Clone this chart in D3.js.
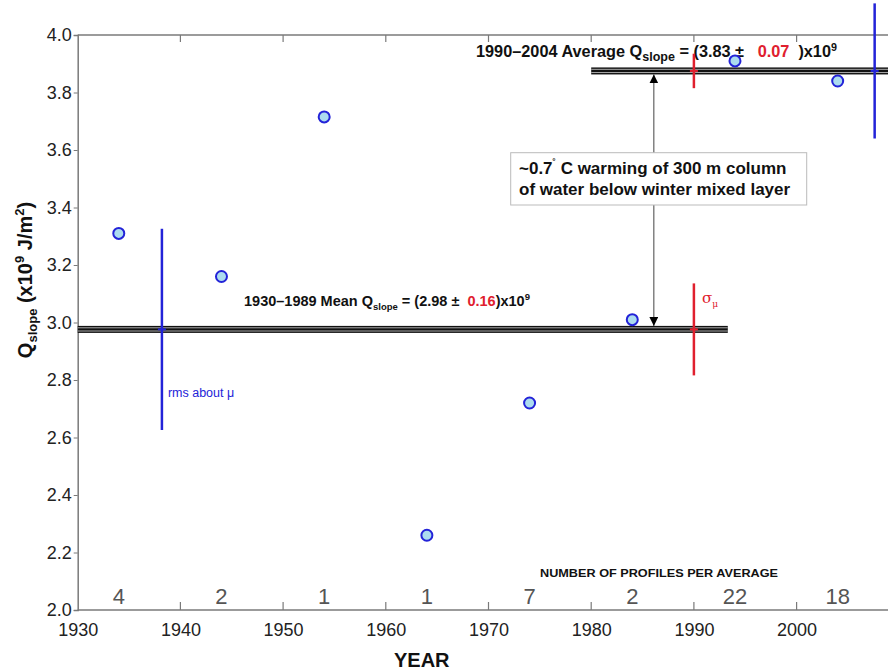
<!DOCTYPE html>
<html><head><meta charset="utf-8">
<script src="https://cdn.jsdelivr.net/npm/d3@7"></script>
<style>
html,body{margin:0;padding:0;background:#fff;overflow:hidden;}
svg{display:block;font-family:"Liberation Sans",Arial,Helvetica,sans-serif;}
</style></head>
<body>
<script>
// ---- data ----
const years = [1934, 1944, 1954, 1964, 1974, 1984, 1994, 2004];
const qslope = [3.31, 3.16, 3.715, 2.26, 2.72, 3.01, 3.91, 3.84];
const profiles = [4, 2, 1, 1, 7, 2, 22, 18];
const xTicks = [1930, 1940, 1950, 1960, 1970, 1980, 1990, 2000];
const yTicks = [2.0, 2.2, 2.4, 2.6, 2.8, 3.0, 3.2, 3.4, 3.6, 3.8, 4.0];
// early period statistics (1930-1989)
const earlyMean = 2.976, earlySigma = 0.16, earlyRms = 0.35;
const earlyBandYears = [1930, 1993.3];
const earlyRmsYear = 1938.2, earlySigmaYear = 1990;
// late period statistics (1990-2004)
const lateMean = 3.875, lateSigma = 0.06, lateRms = 0.235;
const lateBandYears = [1980, 2012];
const lateRmsYear = 2007.6, lateSigmaYear = 1990;
const arrowYear = 1986.1;

const W = 888, H = 671;
const x = d3.scaleLinear().domain([1930, 2010]).range([77.7, 899.3]);
const y = d3.scaleLinear().domain([2.0, 4.0]).range([610, 35]);

const svg = d3.select("body").append("svg").attr("width", W).attr("height", H);

const blue = "#2323d8", red = "#e0202e", axisCol = "#7a7a7a";

// axes frame
svg.append("line").attr("x1", x(1930)).attr("x2", W).attr("y1", y(4)).attr("y2", y(4))
  .attr("stroke", axisCol).attr("stroke-width", 1.5);
const yAxis = d3.axisLeft(y).tickValues(yTicks).tickFormat(d3.format(".1f")).tickSize(4).tickPadding(2);
const gy = svg.append("g").attr("transform", `translate(${x(1930)},0)`).call(yAxis);
gy.select(".domain").attr("stroke", axisCol).attr("stroke-width", 1.5);
gy.selectAll(".tick line").attr("stroke", axisCol);
gy.selectAll(".tick text").attr("font-size", 18).attr("fill", "#222")
  .attr("font-family", "Liberation Sans, Arial, sans-serif");

const xAxis = d3.axisBottom(x).tickValues(xTicks).tickFormat(d3.format("d")).tickSize(0).tickPadding(13);
const gx = svg.append("g").attr("transform", `translate(0,${y(2)})`).call(xAxis);
gx.select(".domain").attr("stroke", axisCol).attr("stroke-width", 1.5).attr("d", `M${x(1930)},0H${W}`);
gx.selectAll(".tick text").attr("font-size", 18).attr("fill", "#222")
  .attr("font-family", "Liberation Sans, Arial, sans-serif");
// inner ticks bottom & top
svg.append("g").selectAll("line").data(xTicks.filter(d => d > 1930)).join("line")
  .attr("x1", d => x(d)).attr("x2", d => x(d)).attr("y1", y(2)).attr("y2", y(2) - 8)
  .attr("stroke", axisCol).attr("stroke-width", 1.2);
svg.append("g").selectAll("line").data(xTicks.filter(d => d > 1930)).join("line")
  .attr("x1", d => x(d)).attr("x2", d => x(d)).attr("y1", y(4)).attr("y2", y(4) + 7)
  .attr("stroke", axisCol).attr("stroke-width", 1.2);

// profile counts
svg.append("g").selectAll("text").data(years).join("text")
  .attr("x", d => x(d)).attr("y", 604).attr("text-anchor", "middle")
  .attr("font-size", 22).attr("fill", "#555").attr("font-weight", 300)
  .text((d, i) => profiles[i]);
svg.append("text").attr("x", 659).attr("y", 577).attr("text-anchor", "middle")
  .attr("font-size", 11.5).attr("font-weight", "bold").attr("fill", "#111")
  .attr("font-family", "Liberation Sans Narrow, Arial Narrow, Liberation Sans, sans-serif")
  .attr("textLength", 238).attr("lengthAdjust", "spacingAndGlyphs")
  .text("NUMBER OF PROFILES PER AVERAGE");

// axis titles
svg.append("text").attr("x", x(1963.5)).attr("y", 667).attr("text-anchor", "middle")
  .attr("font-size", 20).attr("font-weight", "bold").attr("fill", "#111").text("YEAR");
const yl = svg.append("text").attr("transform", "translate(32,280) rotate(-90)")
  .attr("text-anchor", "middle").attr("font-size", 20).attr("font-weight", "bold").attr("fill", "#111");
yl.append("tspan").text("Q");
yl.append("tspan").attr("font-size", 13).attr("dy", 5).text("slope");
yl.append("tspan").attr("dy", -5).text(" (x10");
yl.append("tspan").attr("font-size", 13).attr("dy", -8).text("9");
yl.append("tspan").attr("dy", 8).text(" J/m");
yl.append("tspan").attr("font-size", 13).attr("dy", -8).text("2");
yl.append("tspan").attr("dy", 8).text(")");

// bands (triple black lines)
function band(yv, yrs) {
  const g = svg.append("g");
  const yc = y(yv);
  g.append("rect").attr("x", x(yrs[0])).attr("width", x(yrs[1]) - x(yrs[0]))
    .attr("y", yc - 3.5).attr("height", 7).attr("fill", "#111");
  [-1.6, 1.6].forEach(o => g.append("line").attr("x1", x(yrs[0])).attr("x2", x(yrs[1]))
    .attr("y1", yc + o).attr("y2", yc + o).attr("stroke", "#bbb").attr("stroke-width", 0.9));
}
band(earlyMean, earlyBandYears);
band(lateMean, lateBandYears);

// error bars
function vbar(yr, c, h, col, w) {
  svg.append("line").attr("x1", x(yr)).attr("x2", x(yr)).attr("y1", y(c + h)).attr("y2", y(c - h))
    .attr("stroke", col).attr("stroke-width", w);
  svg.append("line").attr("x1", x(yr) - 4).attr("x2", x(yr) + 4).attr("y1", y(c)).attr("y2", y(c))
    .attr("stroke", col).attr("stroke-width", 2);
}
vbar(earlyRmsYear, earlyMean, earlyRms, blue, 2.5);
vbar(earlySigmaYear, earlyMean, earlySigma, red, 2.5);
vbar(lateRmsYear, lateMean, lateRms, blue, 2.5);

svg.append("text").attr("x", x(earlyRmsYear) + 6).attr("y", 397).attr("font-size", 12.5)
  .attr("fill", blue).text("rms about \u03bc");
const sg = svg.append("text").attr("x", x(earlySigmaYear) + 8).attr("y", 303).attr("font-size", 15)
  .attr("fill", red).attr("font-family", "DejaVu Serif, serif");
sg.append("tspan").text("\u03c3");
sg.append("tspan").attr("font-size", 9).attr("dy", 4).text("\u03bc");

// arrow
svg.append("defs").html(`<marker id="ah" viewBox="0 0 10 10" refX="10" refY="5" markerWidth="9" markerHeight="9" markerUnits="userSpaceOnUse" orient="auto-start-reverse"><path d="M0,0L10,5L0,10z" fill="#000"/></marker>`);
svg.append("line").attr("x1", x(arrowYear)).attr("x2", x(arrowYear))
  .attr("y1", y(lateMean) + 3.5).attr("y2", y(earlyMean) - 3.5)
  .attr("stroke", "#444").attr("stroke-width", 1)
  .attr("marker-start", "url(#ah)").attr("marker-end", "url(#ah)");

// box annotation
svg.append("rect").attr("x", 510.7).attr("y", 152.7).attr("width", 296).attr("height", 52.3)
  .attr("fill", "#fff").attr("stroke", "#bbb").attr("stroke-width", 1);
const bt = svg.append("text").attr("font-size", 17).attr("font-weight", "bold").attr("fill", "#111");
const l1 = bt.append("tspan").attr("x", 519).attr("y", 174);
l1.append("tspan").text("~0.7");
l1.append("tspan").attr("font-size", 10).attr("dy", -7).text("\u02da");
l1.append("tspan").attr("dy", 7).text(" C warming of 300 m column");
bt.append("tspan").attr("x", 519).attr("y", 195).text("of water below winter mixed layer");

// equation labels
function eq(xp, yp, fs, pre, val, err, subSize, gap1, gap2) {
  const t = svg.append("text").attr("x", xp).attr("y", yp).attr("font-size", fs)
    .attr("font-weight", "bold").attr("fill", "#111").attr("xml:space", "preserve");
  t.append("tspan").text(pre + " Q");
  t.append("tspan").attr("font-size", subSize).attr("dy", 4).text("slope");
  t.append("tspan").attr("dy", -4).text(" = (" + val + " \u00b1" + gap1);
  t.append("tspan").attr("fill", red).text(err);
  t.append("tspan").text(gap2 + ")x10");
  t.append("tspan").attr("font-size", fs * 0.66).attr("dy", -6).text("9");
}
eq(476, 57, 16.3, "1990\u20132004 Average", "3.83", "0.07", 12.5, "   ", "  ");
eq(244, 306, 14.5, "1930\u20131989 Mean", "2.98", "0.16", 9.5, "  ", "");

// late sigma bar drawn over the label, as in the reference
vbar(lateSigmaYear, lateMean, lateSigma, red, 2.5);

// data points (on top)
svg.append("g").selectAll("circle").data(years).join("circle")
  .attr("cx", d => x(d)).attr("cy", (d, i) => y(qslope[i])).attr("r", 5.5)
  .attr("fill", "#acdcef").attr("stroke", blue).attr("stroke-width", 2);
</script>
</body></html>
